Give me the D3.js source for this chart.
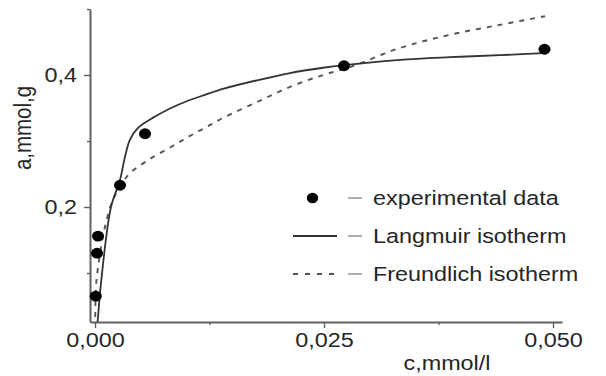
<!DOCTYPE html>
<html>
<head>
<meta charset="utf-8">
<script src="https://cdn.jsdelivr.net/npm/d3@7"></script>
<style>
  html, body { margin: 0; padding: 0; background: #fff; }
  svg { display: block; font-family: "Liberation Sans", Arial, sans-serif; }
</style>
</head>
<body>
<svg id="chart" width="606" height="376"></svg>
<script>
// ---- data ----
const expC = [0.00008, 0.00022, 0.00033, 0.00273, 0.00546, 0.02718, 0.04907];
const expA = [0.065, 0.130, 0.156, 0.233, 0.311, 0.414, 0.439];

const langC = [0, 0.000218, 0.000655, 0.001747, 0.002729, 0.003275, 0.003821, 0.004694, 0.00655, 0.0083, 0.01015, 0.0120, 0.01397, 0.01769, 0.02129, 0.02489, 0.02718, 0.0333, 0.03876, 0.04421, 0.04891];
const langA = [0, 0.018, 0.085, 0.200, 0.241, 0.276, 0.302, 0.320, 0.337, 0.350, 0.361, 0.370, 0.379, 0.392, 0.403, 0.411, 0.415, 0.423, 0.427, 0.430, 0.433];

const freuC = [0, 0.00011, 0.00033, 0.00109, 0.00197, 0.0036, 0.00579, 0.0083, 0.01015, 0.01201, 0.01397, 0.01769, 0.02129, 0.02489, 0.02784, 0.0333, 0.03876, 0.04421, 0.04913];
const freuA = [0, 0.079, 0.109, 0.170, 0.211, 0.248, 0.271, 0.291, 0.306, 0.320, 0.335, 0.359, 0.382, 0.400, 0.412, 0.441, 0.461, 0.476, 0.489];

const xTicks = [0, 0.025, 0.05];
const xMinorTicks = [0.0125, 0.0375];
const yTicks = [0.2, 0.4];
const yMinorTicks = [0.1, 0.3, 0.5];

const xLabel = "c,mmol/l";
const yLabel = "a,mmol,g";
const legendLabels = ["experimental data", "Langmuir isotherm", "Freundlich isotherm"];

// ---- layout ----
const svg = d3.select("#chart");
const mLeft = 90, mRight = 562, mTop = 9, mBottom = 322;
const SX = 1.2;       // horizontal stretch of the reference text
const FS = 19.5;

const x = d3.scaleLinear().domain([-0.000546, 0.05098]).range([mLeft, mRight]);
const y = d3.scaleLinear().domain([0.0258, 0.5]).range([mBottom, mTop]);

const loc = d3.formatLocale({decimal: ",", thousands: ".", grouping: [3], currency: ["", ""]});
const fx = loc.format(".3f");
const fy = loc.format(".1f");

const axisColor = "#606060";
const textColor = "#262626";

// clip
svg.append("defs").append("clipPath").attr("id", "clip")
  .append("rect").attr("x", mLeft).attr("y", mTop).attr("width", mRight - mLeft).attr("height", mBottom - mTop);

// x axis
const gx = svg.append("g").attr("transform", `translate(0,${mBottom})`)
  .call(d3.axisBottom(x).tickValues(xTicks).tickFormat(fx).tickSize(6).tickSizeOuter(0));
gx.append("g").call(d3.axisBottom(x).tickValues(xMinorTicks).tickFormat("").tickSize(3).tickSizeOuter(0))
  .select(".domain").remove();

// y axis
const gy = svg.append("g").attr("transform", `translate(${mLeft},0)`)
  .call(d3.axisLeft(y).tickValues(yTicks).tickFormat(fy).tickSize(6).tickSizeOuter(0));
gy.append("g").call(d3.axisLeft(y).tickValues(yMinorTicks).tickFormat("").tickSize(3).tickSizeOuter(0))
  .select(".domain").remove();

[gx, gy].forEach(g => {
  g.selectAll(".domain").attr("stroke", axisColor).attr("stroke-width", 2);
  g.selectAll(".tick line").attr("stroke", axisColor).attr("stroke-width", 1.4);
  g.selectAll("text").attr("font-size", FS).attr("fill", textColor)
    .attr("font-family", '"Liberation Sans", Arial, sans-serif');
});
gx.selectAll(".tick text").attr("y", 25).attr("dy", 0).attr("transform", `scale(${SX},1)`);
gy.selectAll(".tick text").attr("x", -13 / SX).attr("dy", "0.33em").attr("transform", `scale(${SX},1)`);

// axis titles
svg.append("text").attr("transform", `translate(447,370) scale(${SX},1)`)
  .attr("text-anchor", "middle").attr("font-size", FS).attr("fill", textColor).text(xLabel);
svg.append("text").attr("transform", `translate(31,128) scale(${SX},1) rotate(-90)`)
  .attr("text-anchor", "middle").attr("font-size", 20.5).attr("fill", textColor).text(yLabel);

// curves
const plot = svg.append("g").attr("clip-path", "url(#clip)");
const line = d3.line().x(d => x(d[0])).y(d => y(d[1])).curve(d3.curveCatmullRom.alpha(0.5));

plot.append("path").datum(freuC.map((c, i) => [c, freuA[i]]))
  .attr("d", line).attr("fill", "none").attr("stroke", "#555").attr("stroke-width", 1.9)
  .attr("stroke-dasharray", "5,6");
plot.append("path").datum(langC.map((c, i) => [c, langA[i]]))
  .attr("d", line).attr("fill", "none").attr("stroke", "#333").attr("stroke-width", 1.8);

// experimental points
svg.append("g").selectAll("ellipse").data(expC.map((c, i) => [c, expA[i]])).join("ellipse")
  .attr("cx", d => x(d[0])).attr("cy", d => y(d[1])).attr("rx", 6).attr("ry", 5.4).attr("fill", "#000");

// legend
const lg = svg.append("g");
const rowsY = [198, 236, 274];
lg.append("ellipse").attr("cx", 312.5).attr("cy", rowsY[0]).attr("rx", 5.7).attr("ry", 5.2).attr("fill", "#000");
lg.append("line").attr("x1", 293).attr("x2", 337).attr("y1", rowsY[1]).attr("y2", rowsY[1])
  .attr("stroke", "#333").attr("stroke-width", 1.8);
lg.append("line").attr("x1", 293).attr("x2", 337).attr("y1", rowsY[2]).attr("y2", rowsY[2])
  .attr("stroke", "#555").attr("stroke-width", 1.9).attr("stroke-dasharray", "5,7");
rowsY.forEach((ry, i) => {
  lg.append("line").attr("x1", 348).attr("x2", 362).attr("y1", ry).attr("y2", ry)
    .attr("stroke", "#9a9a9a").attr("stroke-width", 1.6);
  lg.append("text").attr("transform", `translate(373,${ry + 6.5}) scale(${SX},1)`)
    .attr("font-size", FS).attr("fill", textColor).text(legendLabels[i]);
});
</script>
</body>
</html>
